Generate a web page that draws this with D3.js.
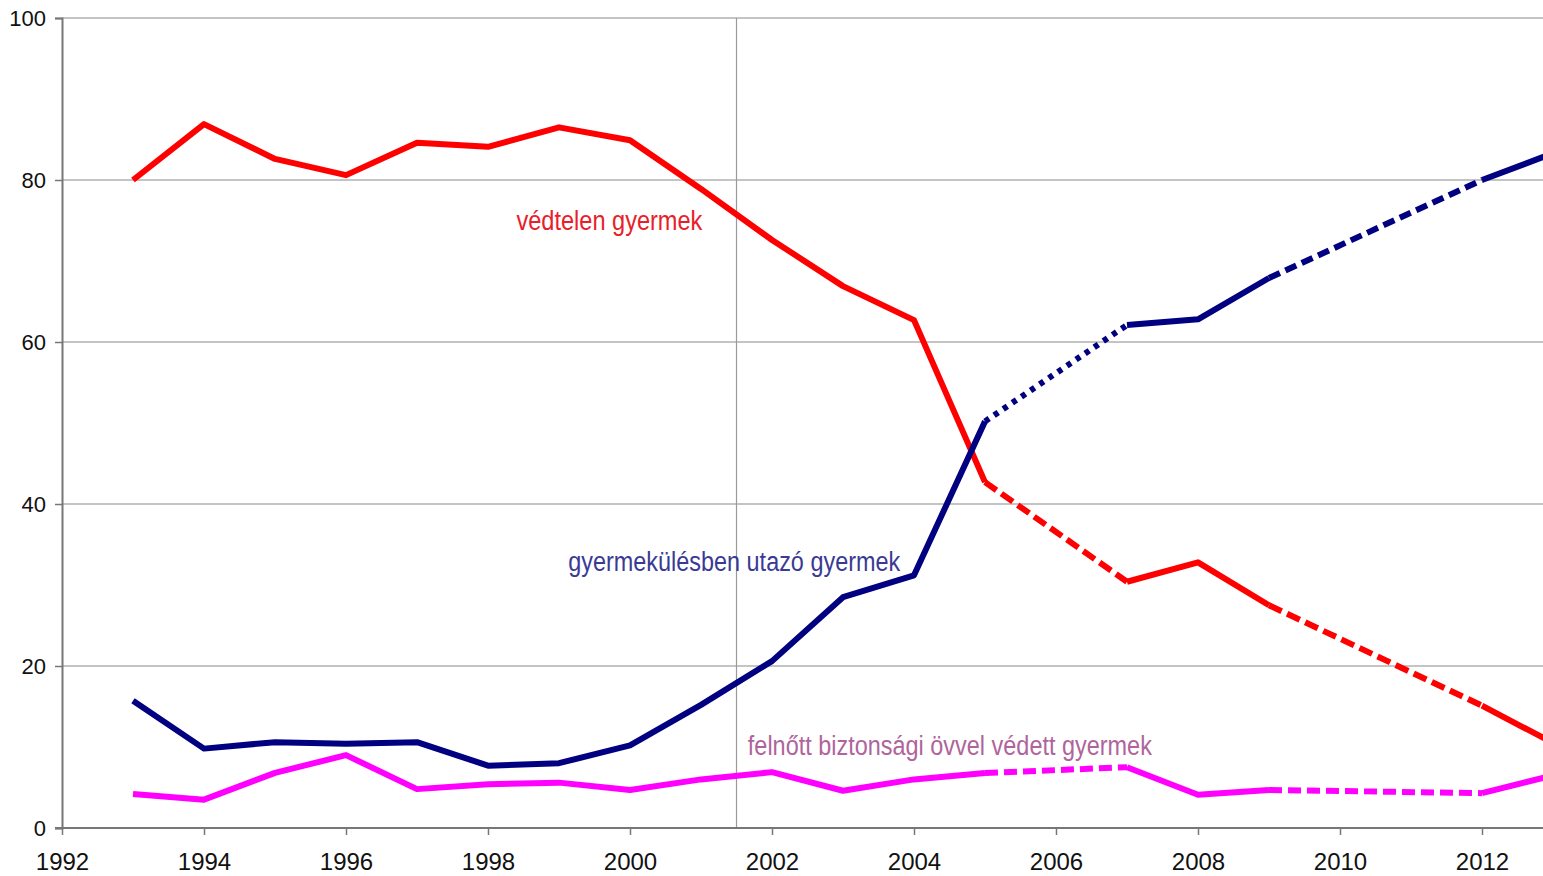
<!DOCTYPE html>
<html>
<head>
<meta charset="utf-8">
<script src="https://cdn.jsdelivr.net/npm/d3@7"></script>
<style>
  html, body { margin: 0; padding: 0; background: #fff; }
  svg { display: block; }
</style>
</head>
<body>
<svg id="chart" width="1543" height="876"></svg>
<script>
// Survey years; null marks a year without a measurement (bridged with a dashed segment)
const years = [1993, 1994, 1995, 1996, 1997, 1998, 1999, 2000, 2001, 2002, 2003, 2004, 2005, 2006, 2007, 2008, 2009, 2010, 2011, 2012, 2013];
const unprotected = [80.0, 86.9, 82.6, 80.6, 84.6, 84.1, 86.5, 84.9, 78.9, 72.6, 66.9, 62.7, 42.7, null, 30.4, 32.8, 27.5, null, null, 15.1, 10.5];
const childSeat = [15.7, 9.8, 10.6, 10.4, 10.6, 7.7, 8.0, 10.2, 15.2, 20.6, 28.5, 31.2, 50.2, null, 62.1, 62.8, 67.9, null, null, 80.0, 83.3];
const adultBelt = [4.2, 3.5, 6.8, 9.0, 4.8, 5.4, 5.6, 4.7, 6.0, 6.9, 4.6, 6.0, 6.8, null, 7.5, 4.1, 4.7, null, null, 4.3, 6.5];

const seriesNames = ["védtelen gyermek", "gyermekülésben utazó gyermek", "felnőtt biztonsági övvel védett gyermek"];
const yTicks = [0, 20, 40, 60, 80, 100];
const xTicks = [1992, 1994, 1996, 1998, 2000, 2002, 2004, 2006, 2008, 2010, 2012];
const markerYear = 2001.5;

const W = 1543, H = 876;
const margin = { left: 62, top: 18, bottom: 48 };
const plotBottom = H - margin.bottom;

const svg = d3.select("#chart");

const x = d3.scaleLinear().domain([1992, 2013]).range([margin.left, margin.left + 21 * 71.0]);
const y = d3.scaleLinear().domain([0, 100]).range([plotBottom, margin.top]);

svg.append("defs").append("clipPath").attr("id", "plot-clip")
  .append("rect").attr("x", margin.left).attr("y", 0).attr("width", W - margin.left).attr("height", H);

// horizontal grid
svg.append("g")
  .selectAll("line").data(yTicks.filter(d => d > 0)).join("line")
  .attr("x1", margin.left).attr("x2", W)
  .attr("y1", d => y(d)).attr("y2", d => y(d))
  .attr("stroke", "#8a8a8a").attr("stroke-width", 1.2);

// vertical marker line
svg.append("line")
  .attr("x1", x(markerYear)).attr("x2", x(markerYear))
  .attr("y1", margin.top).attr("y2", plotBottom)
  .attr("stroke", "#9a9a9a").attr("stroke-width", 1.2);

const tickFont = "'Liberation Sans', Arial, sans-serif";

// y axis
const yAxis = d3.axisLeft(y).tickValues(yTicks).tickSize(7).tickPadding(9);
const gy = svg.append("g").attr("transform", `translate(${margin.left},0)`).call(yAxis);
gy.select(".domain").attr("stroke", "#777").attr("stroke-width", 2);
gy.selectAll(".tick line").attr("stroke", "#777").attr("stroke-width", 1.5);
gy.selectAll(".tick text")
  .attr("font-family", tickFont)
  .attr("font-size", 22).attr("fill", "#111");

// x axis
const xAxis = d3.axisBottom(x).tickValues(xTicks).tickFormat(d3.format("d")).tickSize(7).tickPadding(18);
const gx = svg.append("g").attr("transform", `translate(0,${plotBottom})`).call(xAxis);
gx.select(".domain").remove();
gx.append("line").attr("x1", margin.left - 7).attr("x2", W).attr("y1", 0).attr("y2", 0)
  .attr("stroke", "#777").attr("stroke-width", 2);
gx.selectAll(".tick line").attr("stroke", "#777").attr("stroke-width", 1.5);
gx.selectAll(".tick text")
  .attr("font-family", tickFont)
  .attr("font-size", 24).attr("fill", "#111");

// series
const series = [
  { values: unprotected, color: "#ff0000", gapDash: ["14,6", "14,6"] },
  { values: childSeat, color: "#000080", gapDash: ["5,6", "12,6"] },
  { values: adultBelt, color: "#ff00ff", gapDash: ["13,6", "13,6"] }
];

const lineGen = d3.line()
  .defined(d => d.v !== null)
  .x(d => x(d.year)).y(d => y(d.v));

const lines = svg.append("g").attr("clip-path", "url(#plot-clip)");

series.forEach(s => {
  const pts = years.map((year, i) => ({ year, v: s.values[i] }));
  lines.append("path").datum(pts)
    .attr("d", lineGen)
    .attr("fill", "none").attr("stroke", s.color)
    .attr("stroke-width", 6).attr("stroke-linejoin", "round");

  // dashed bridges across missing years
  const known = pts.filter(p => p.v !== null);
  let g = 0;
  for (let i = 1; i < known.length; i++) {
    if (known[i].year - known[i - 1].year > 1) {
      lines.append("path").datum([known[i - 1], known[i]])
        .attr("d", lineGen)
        .attr("fill", "none").attr("stroke", s.color)
        .attr("stroke-width", 6)
        .attr("stroke-dasharray", s.gapDash[g] || s.gapDash[0]);
      g++;
    }
  }
});

// series labels (condensed to a fixed run length)
const labels = [
  { text: seriesNames[0], year: 1998.4, v: 73.8, len: 186, color: "#e8202a" },
  { text: seriesNames[1], year: 1999.13, v: 31.7, len: 332, color: "#3a3a94" },
  { text: seriesNames[2], year: 2001.66, v: 9.0, len: 404, color: "#b0649c" }
];
svg.append("g").selectAll("text").data(labels).join("text")
  .attr("x", d => x(d.year)).attr("y", d => y(d.v))
  .attr("font-family", tickFont).attr("font-size", 27)
  .attr("textLength", d => d.len).attr("lengthAdjust", "spacingAndGlyphs")
  .attr("fill", d => d.color)
  .text(d => d.text);
</script>
</body>
</html>
